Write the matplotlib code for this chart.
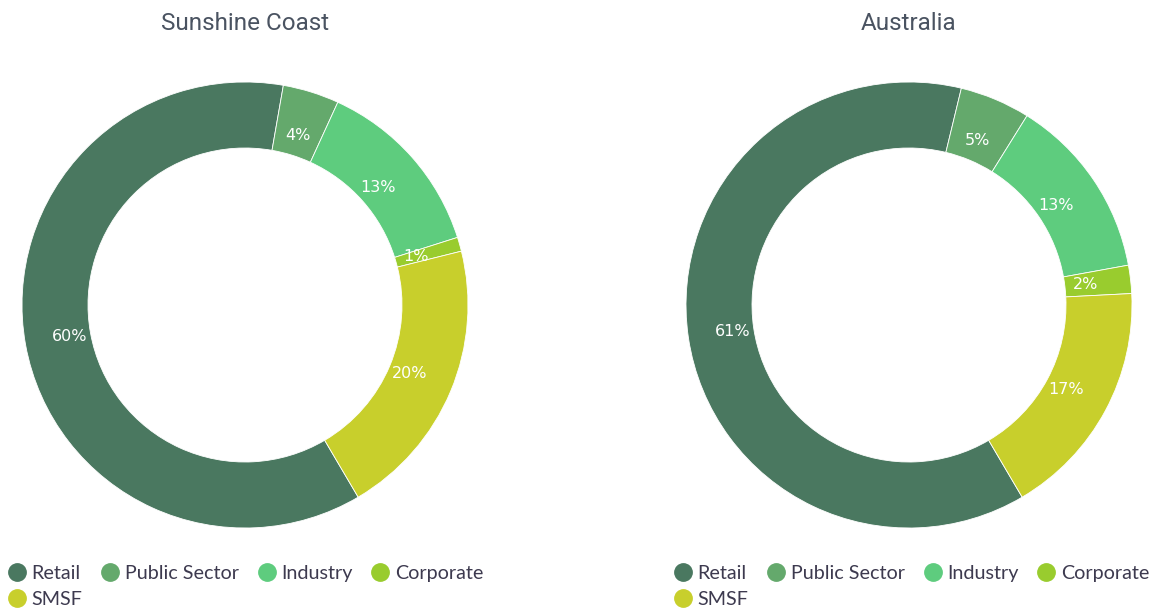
import numpy as np
import matplotlib
matplotlib.use("Agg")
import matplotlib.pyplot as plt
from matplotlib.lines import Line2D

categories = ["Retail", "Public Sector", "Industry", "Corporate", "SMSF"]
sunshine_coast = [60, 4, 13, 1, 20]
australia = [61, 5, 13, 2, 17]
titles = ["Sunshine Coast", "Australia"]
colors = ["#4a7860", "#64a96c", "#5ecc7e", "#99cc2e", "#c8cf2c"]

W, H = 1156, 608
fig = plt.figure(figsize=(W / 100, H / 100), dpi=100)
ax = fig.add_axes([0, 0, 1, 1])

outer, ring = 223, 66
centers = [(245, 303), (909, 303)]

for vals, title, c in zip([sunshine_coast, australia], titles, centers):
    wedges, _ = ax.pie(vals, colors=colors, startangle=-59.5, counterclock=False,
                       radius=outer, center=c,
                       wedgeprops=dict(width=ring, edgecolor="white", linewidth=0.6))
    for w, v in zip(wedges, vals):
        mid = np.deg2rad((w.theta1 + w.theta2) / 2)
        r = outer - ring / 2 - 12
        ax.text(c[0] + r * np.cos(mid), c[1] + r * np.sin(mid), f"{v}%",
                ha="center", va="center", color="white", fontsize=11.5,
                family="Liberation Sans Narrow")
    ax.text(c[0], H - 23, title, ha="center", va="center", fontsize=17.5,
            color="#4a5361", family="Roboto")

ax.set_xlim(0, W)
ax.set_ylim(0, H)
ax.set_aspect("equal")
ax.axis("off")

# legends: column-major order so rows read Retail, Public Sector, Industry, Corporate / SMSF
order = [0, 4, 1, 2, 3]
handles = [Line2D([], [], marker="o", linestyle="none", markersize=12.5,
                  markerfacecolor=colors[i], markeredgecolor=colors[i]) for i in order]
labels = [categories[i] for i in order]
for x0 in [7, 673]:
    fig.legend(handles, labels, ncol=4, loc="lower left",
               bbox_to_anchor=(x0 / W, 0.0), frameon=False,
               prop=dict(family="Lato", size=14.2), labelcolor="#3d3a4f",
               handletextpad=0.25, columnspacing=0.9, handlelength=1.0,
               labelspacing=0.45, borderpad=0.0, borderaxespad=0.0)

fig.savefig("out.png", dpi=100)
